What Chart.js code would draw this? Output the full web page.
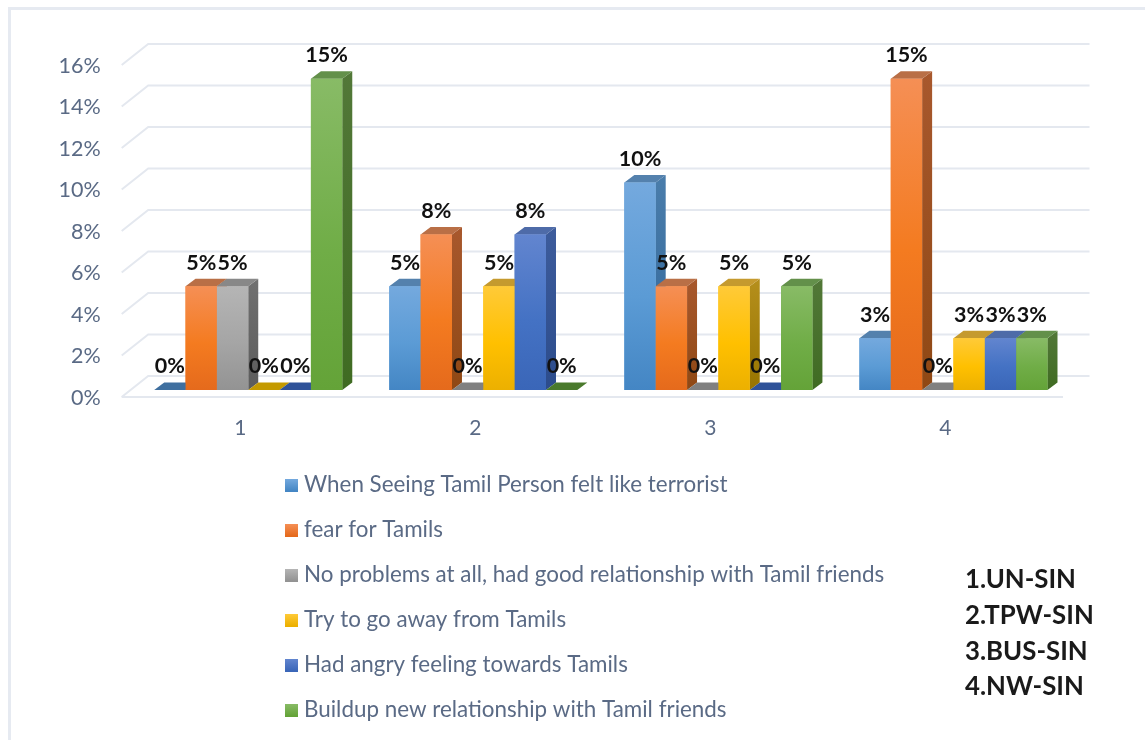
<!DOCTYPE html>
<html>
<head>
<meta charset="utf-8">
<script src="https://cdn.jsdelivr.net/npm/chart.js@4"></script>
<style>
  body { margin: 0; background: #fff; overflow: hidden; }
  #frame { position: absolute; left: 8px; top: 7px; right: -4px; bottom: -4px; border: 3px solid #e6eaf1; }
  #grafico { position: absolute; left: 0; top: 0; filter: blur(0.35px); }
</style>
</head>
<body>
<div id="frame"></div>
<canvas id="grafico" width="1145" height="740"></canvas>
<script>
// dados do grafico
var categorias = ['1', '2', '3', '4'];
var seeingTerrorist = [0, 5, 10, 2.5];
var fearTamils = [5, 7.5, 5, 15];
var noProblems = [5, 0, 0, 0];
var goAway = [0, 5, 5, 2.5];
var angryFeeling = [0, 7.5, 0, 2.5];
var newRelationship = [15, 0, 5, 2.5];
var ticksY = [0, 2, 4, 6, 8, 10, 12, 14, 16];
var nomesSeries = [
    'When Seeing Tamil Person felt like terrorist',
    'fear for Tamils',
    'No problems at all, had good relationship with Tamil friends',
    'Try to go away from Tamils',
    'Had angry feeling towards Tamils',
    'Buildup new relationship with Tamil friends'
];
var notas = ['1.UN-SIN', '2.TPW-SIN', '3.BUS-SIN', '4.NW-SIN'];

var valores = [seeingTerrorist, fearTamils, noProblems, goAway, angryFeeling, newRelationship];
var cores = [
    // topo, meio, base da frente; lado (cima, baixo); tampa; tampa quando zero
    { claro: '#74a9de', meio: '#5b9bd5', base: '#4486c4', lado: ['#4a7dab', '#2f6599'], tampa: '#5481ad', zero: '#3f6f9f' },
    { claro: '#f58f55', meio: '#f47b20', base: '#e56a1c', lado: ['#a8582d', '#8f4814'], tampa: '#b96f46', zero: '#b5602a' },
    { claro: '#b5b5b5', meio: '#a5a5a5', base: '#939393', lado: ['#707070', '#5c5c5c'], tampa: '#888888', zero: '#808080' },
    { claro: '#ffca38', meio: '#ffc000', base: '#ecb000', lado: ['#b58f1c', '#977400'], tampa: '#c59a2e', zero: '#c49a00' },
    { claro: '#6285cf', meio: '#4472c4', base: '#3a66b8', lado: ['#3d5c9c', '#2c4c8c'], tampa: '#4e6ba8', zero: '#2f5299' },
    { claro: '#88bb66', meio: '#70ad47', base: '#64a338', lado: ['#527838', '#3f6b22'], tampa: '#63904a', zero: '#4a7a2c' }
];

// profundidade do 3D
var fundoX = 10, fundoY = 7.5;
var corGrade = '#e4e8ef';
var corTexto = '#5a6a85';

function gradeFundo(chart) { // parede e chao
    var ctx = chart.ctx, area = chart.chartArea, y = chart.scales.y;
    ctx.save();
    ctx.strokeStyle = corGrade;
    ctx.lineWidth = 2;
    ticksY.forEach(function (t) {
        var py = y.getPixelForValue(t);
        ctx.beginPath();
        ctx.moveTo(area.left - 9, py + 7);
        ctx.lineTo(area.left + 17.5, py - 14);
        ctx.lineTo(area.right + 18.5, py - 14);
        ctx.stroke();
    });
    var py0 = y.getPixelForValue(0);
    ctx.beginPath();
    ctx.moveTo(area.left - 9, py0 + 7);
    ctx.lineTo(area.right - 8, py0 + 7);
    ctx.stroke();
    ctx.restore();
}

function barra3d(ctx, bar, cor) {
    var esq = bar.x - bar.width / 2, dir = bar.x + bar.width / 2;
    var topo = bar.y, base = bar.base;
    var zero = base - topo < 0.5;

    // lado direito
    if (!zero) {
        var gLado = ctx.createLinearGradient(0, topo - fundoY, 0, base);
        gLado.addColorStop(0, cor.lado[0]);
        gLado.addColorStop(1, cor.lado[1]);
        ctx.fillStyle = gLado;
        ctx.beginPath();
        ctx.moveTo(dir, topo);
        ctx.lineTo(dir + fundoX, topo - fundoY);
        ctx.lineTo(dir + fundoX, base - fundoY);
        ctx.lineTo(dir, base);
        ctx.closePath();
        ctx.fill();
    }

    // tampa
    ctx.fillStyle = zero ? cor.zero : cor.tampa;
    ctx.beginPath();
    ctx.moveTo(esq, topo);
    ctx.lineTo(esq + fundoX, topo - fundoY);
    ctx.lineTo(dir + fundoX, topo - fundoY);
    ctx.lineTo(dir, topo);
    ctx.closePath();
    ctx.fill();

    // frente
    if (!zero) {
        var g = ctx.createLinearGradient(0, topo, 0, base);
        g.addColorStop(0, cor.claro);
        g.addColorStop(0.55, cor.meio);
        g.addColorStop(1, cor.base);
        ctx.fillStyle = g;
        ctx.fillRect(esq, topo, bar.width, base - topo);
    }
}

var plugin3d = {
    id: 'plugin3d',
    beforeDatasetsDraw: function (chart) {
        gradeFundo(chart);
    },
    afterDatasetsDraw: function (chart) {
        var ctx = chart.ctx;
        ctx.save();
        // da esquerda pra direita, uma barra cobre o lado da anterior
        categorias.forEach(function (c, i) {
            valores.forEach(function (v, s) {
                barra3d(ctx, chart.getDatasetMeta(s).data[i], cores[s]);
            });
        });
        // rotulos
        ctx.fillStyle = '#111';
        ctx.font = 'bold 21.5px Lato';
        ctx.textAlign = 'center';
        ctx.textBaseline = 'middle';
        categorias.forEach(function (c, i) {
            valores.forEach(function (v, s) {
                var bar = chart.getDatasetMeta(s).data[i];
                ctx.fillText(Math.round(v[i]) + '%', bar.x, bar.y - 23.5);
            });
        });
        ctx.restore();
    },
    afterDraw: function (chart) {
        var ctx = chart.ctx;
        ctx.save();
        ctx.textBaseline = 'middle';
        // legenda
        nomesSeries.forEach(function (nome, s) {
            var y = 485 + s * 45;
            var g = ctx.createLinearGradient(0, y - 6, 0, y + 6);
            g.addColorStop(0, cores[s].claro);
            g.addColorStop(1, cores[s].base);
            ctx.fillStyle = g;
            ctx.fillRect(285, y - 6, 13, 13);
            ctx.fillStyle = corTexto;
            ctx.font = '22.4px Lato';
            ctx.fillText(nome, 304, y);
        });
        // nota do lado
        ctx.fillStyle = '#1a1a1a';
        ctx.font = 'bold 25.8px Lato';
        notas.forEach(function (n, i) {
            ctx.fillText(n, 965, 580 + i * 35.7);
        });
        ctx.restore();
    }
};

var ctx = document.getElementById('grafico').getContext('2d');
var myChart = new Chart(ctx, {
    type: 'bar',
    data: {
        labels: categorias,
        datasets: valores.map(function (v, s) {
            return { label: nomesSeries[s], data: v, backgroundColor: cores[s].meio };
        })
    },
    options: {
        responsive: false,
        animation: false,
        layout: { padding: { left: 10, top: 58, right: 74, bottom: 290 } },
        categoryPercentage: 0.8,
        barPercentage: 1,
        plugins: { legend: { display: false }, tooltip: { enabled: false } },
        scales: {
            x: {
                grid: { display: false },
                border: { display: false },
                afterFit: function (s) { s.height = 60; },
                ticks: { color: corTexto, font: { family: 'Lato', size: 21 }, padding: 18, labelOffset: -8, maxRotation: 0 }
            },
            y: {
                min: 0,
                max: 16,
                grid: { display: false },
                border: { display: false },
                afterFit: function (s) { s.width = 120.7; },
                ticks: {
                    stepSize: 2,
                    color: corTexto,
                    font: { family: 'Lato', size: 21.5 },
                    padding: 22,
                    labelOffset: 8,
                    callback: function (v) { return v + '%'; }
                }
            }
        }
    },
    plugins: [plugin3d]
});
</script>
</body>
</html>
